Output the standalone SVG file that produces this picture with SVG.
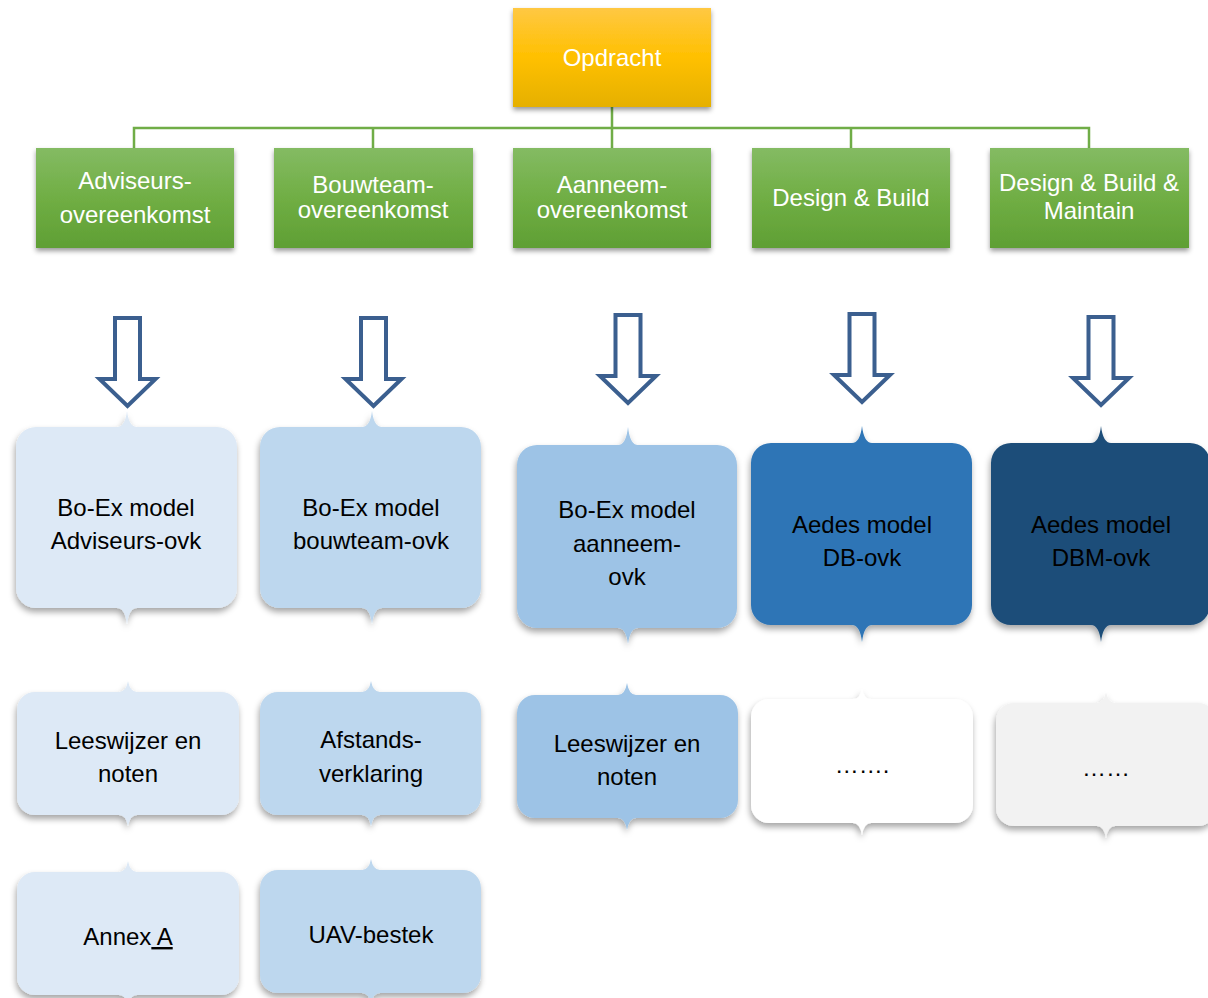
<svg xmlns="http://www.w3.org/2000/svg" width="1208" height="998" viewBox="0 0 1208 998">
<defs>
<linearGradient id="gYellow" x1="0" y1="0" x2="0" y2="1">
<stop offset="0" stop-color="#ffc843"/><stop offset="0.5" stop-color="#ffc000"/><stop offset="1" stop-color="#e5b000"/>
</linearGradient>
<linearGradient id="gGreen" x1="0" y1="0" x2="0" y2="1">
<stop offset="0" stop-color="#84bb63"/><stop offset="0.5" stop-color="#70ae44"/><stop offset="1" stop-color="#5f9f34"/>
</linearGradient>
<filter id="shTop" x="-10%" y="-10%" width="120%" height="130%">
<feDropShadow dx="0" dy="3" stdDeviation="2.5" flood-color="#000" flood-opacity="0.4"/>
</filter>
<filter id="shBox" x="-10%" y="-15%" width="120%" height="135%">
<feDropShadow dx="-1" dy="4" stdDeviation="3" flood-color="#000" flood-opacity="0.35"/>
</filter>
<path id="arrow" d="M-12.5,0 H12.5 V61 H28 L0,88 L-28,61 H-12.5 Z"/>
</defs>
<style>
.ttl{font-family:"Liberation Sans",Arial,sans-serif;font-size:24px;fill:#fff;text-anchor:middle}
.txt{font-family:"Liberation Sans",Arial,sans-serif;font-size:24px;fill:#000;text-anchor:middle}
.arr{fill:#fff;stroke:#3b5f8f;stroke-width:4;stroke-linejoin:miter}
.conn{fill:none;stroke:#70ad47;stroke-width:2.5}
.cb{filter:url(#shBox)}
</style>

<g id="connectors">
<path class="conn" d="M612,107 V128 M134,148 V128 H1089 V148 M373,128 V148 M612,128 V148 M851,128 V148"/>
</g>

<g id="opdracht">
<rect x="513" y="8" width="198" height="99" fill="url(#gYellow)" filter="url(#shTop)"/>
<text class="ttl" x="612" y="66">Opdracht</text>
</g>

<g id="adviseurs">
<rect x="36" y="148" width="198" height="100" fill="url(#gGreen)" filter="url(#shTop)"/>
<text class="ttl" x="135" y="189">Adviseurs-</text>
<text class="ttl" x="135" y="223">overeenkomst</text>
</g>
<g id="bouwteam">
<rect x="274" y="148" width="199" height="100" fill="url(#gGreen)" filter="url(#shTop)"/>
<text class="ttl" x="373" y="193">Bouwteam-</text>
<text class="ttl" x="373" y="218">overeenkomst</text>
</g>
<g id="aanneem">
<rect x="513" y="148" width="198" height="100" fill="url(#gGreen)" filter="url(#shTop)"/>
<text class="ttl" x="612" y="193">Aanneem-</text>
<text class="ttl" x="612" y="218">overeenkomst</text>
</g>
<g id="db">
<rect x="752" y="148" width="198" height="100" fill="url(#gGreen)" filter="url(#shTop)"/>
<text class="ttl" x="851" y="206">Design &amp; Build</text>
</g>
<g id="dbm">
<rect x="990" y="148" width="199" height="100" fill="url(#gGreen)" filter="url(#shTop)"/>
<text class="ttl" x="1089" y="191">Design &amp; Build &amp;</text>
<text class="ttl" x="1089" y="219">Maintain</text>
</g>

<g id="arrows">
<use href="#arrow" class="arr" transform="translate(127.5,318)"/>
<use href="#arrow" class="arr" transform="translate(373.5,318)"/>
<use href="#arrow" class="arr" transform="translate(628,315)"/>
<use href="#arrow" class="arr" transform="translate(862,314)"/>
<use href="#arrow" class="arr" transform="translate(1101,317)"/>
</g>

<g id="boex-adviseurs">
<path class="cb" fill="#dde9f6" d="M36,427 H117 Q125,427 127,411 Q129,427 137,427 H217 A20,20 0 0 1 237,447 V588 A20,20 0 0 1 217,608 H137 Q129,608 127,624 Q125,608 117,608 H36 A20,20 0 0 1 16,588 V447 A20,20 0 0 1 36,427 Z"/>
<text class="txt" x="126" y="516">Bo-Ex model</text>
<text class="txt" x="126" y="549">Adviseurs-ovk</text>
</g>
<g id="boex-bouwteam">
<path class="cb" fill="#bdd7ee" d="M280,427 H362 Q370,427 372,411 Q374,427 382,427 H461 A20,20 0 0 1 481,447 V588 A20,20 0 0 1 461,608 H382 Q374,608 372,624 Q370,608 362,608 H280 A20,20 0 0 1 260,588 V447 A20,20 0 0 1 280,427 Z"/>
<text class="txt" x="371" y="516">Bo-Ex model</text>
<text class="txt" x="371" y="549">bouwteam-ovk</text>
</g>
<g id="boex-aanneem">
<path class="cb" fill="#9dc3e6" d="M537,445 H618 Q626,445 628,427 Q630,445 638,445 H717 A20,20 0 0 1 737,465 V608 A20,20 0 0 1 717,628 H638 Q630,628 628,644 Q626,628 618,628 H537 A20,20 0 0 1 517,608 V465 A20,20 0 0 1 537,445 Z"/>
<text class="txt" x="627" y="518">Bo-Ex model</text>
<text class="txt" x="627" y="552">aanneem-</text>
<text class="txt" x="627" y="585">ovk</text>
</g>
<g id="aedes-db">
<path class="cb" fill="#2e75b6" d="M771,443 H852 Q860,443 862,426 Q864,443 872,443 H952 A20,20 0 0 1 972,463 V605 A20,20 0 0 1 952,625 H872 Q864,625 862,642 Q860,625 852,625 H771 A20,20 0 0 1 751,605 V463 A20,20 0 0 1 771,443 Z"/>
<text class="txt" x="862" y="533">Aedes model</text>
<text class="txt" x="862" y="566">DB-ovk</text>
</g>
<g id="aedes-dbm">
<path class="cb" fill="#1f4e79" d="M1011,443 H1091 Q1099,443 1101,426 Q1103,443 1111,443 H1190 A20,20 0 0 1 1210,463 V605 A20,20 0 0 1 1190,625 H1111 Q1103,625 1101,642 Q1099,625 1091,625 H1011 A20,20 0 0 1 991,605 V463 A20,20 0 0 1 1011,443 Z"/>
<text class="txt" x="1101" y="533">Aedes model</text>
<text class="txt" x="1101" y="566">DBM-ovk</text>
</g>

<g id="leeswijzer-adviseurs">
<path class="cb" fill="#dde9f6" d="M35,692 H119 Q126,692 128,681 Q130,692 137,692 H221 A18,18 0 0 1 239,710 V797 A18,18 0 0 1 221,815 H137 Q130,815 128,826 Q126,815 119,815 H35 A18,18 0 0 1 17,797 V710 A18,18 0 0 1 35,692 Z"/>
<text class="txt" x="128" y="749">Leeswijzer en</text>
<text class="txt" x="128" y="782">noten</text>
</g>
<g id="afstandsverklaring">
<path class="cb" fill="#bdd7ee" d="M278,692 H362 Q369,692 371,681 Q373,692 380,692 H463 A18,18 0 0 1 481,710 V797 A18,18 0 0 1 463,815 H380 Q373,815 371,826 Q369,815 362,815 H278 A18,18 0 0 1 260,797 V710 A18,18 0 0 1 278,692 Z"/>
<text class="txt" x="371" y="748">Afstands-</text>
<text class="txt" x="371" y="782">verklaring</text>
</g>
<g id="leeswijzer-aanneem">
<path class="cb" fill="#9dc3e6" d="M535,695 H618 Q625,695 627,683 Q629,695 636,695 H720 A18,18 0 0 1 738,713 V800 A18,18 0 0 1 720,818 H636 Q629,818 627,830 Q625,818 618,818 H535 A18,18 0 0 1 517,800 V713 A18,18 0 0 1 535,695 Z"/>
<text class="txt" x="627" y="752">Leeswijzer en</text>
<text class="txt" x="627" y="785">noten</text>
</g>
<g id="db-more">
<path class="cb" fill="#ffffff" d="M769,699 H853 Q860,699 862,689 Q864,699 871,699 H955 A18,18 0 0 1 973,717 V805 A18,18 0 0 1 955,823 H871 Q864,823 862,835 Q860,823 853,823 H769 A18,18 0 0 1 751,805 V717 A18,18 0 0 1 769,699 Z"/>
<text class="txt" x="862" y="773">…….</text>
</g>
<g id="dbm-more">
<path class="cb" fill="#f2f2f2" d="M1014,703 H1097 Q1104,703 1106,692 Q1108,703 1115,703 H1198 A18,18 0 0 1 1216,721 V808 A18,18 0 0 1 1198,826 H1115 Q1108,826 1106,838 Q1104,826 1097,826 H1014 A18,18 0 0 1 996,808 V721 A18,18 0 0 1 1014,703 Z"/>
<text class="txt" x="1106" y="776">……</text>
</g>

<g id="annex-a">
<path class="cb" fill="#dde9f6" d="M35,872 H119 Q126,872 128,861 Q130,872 137,872 H221 A18,18 0 0 1 239,890 V977 A18,18 0 0 1 221,995 H137 Q130,995 128,1006 Q126,995 119,995 H35 A18,18 0 0 1 17,977 V890 A18,18 0 0 1 35,872 Z"/>
<text class="txt" x="128" y="945">Annex<tspan text-decoration="underline"> A</tspan></text>
</g>
<g id="uav-bestek">
<path class="cb" fill="#bdd7ee" d="M278,870 H362 Q369,870 371,859 Q373,870 380,870 H463 A18,18 0 0 1 481,888 V975 A18,18 0 0 1 463,993 H380 Q373,993 371,1004 Q369,993 362,993 H278 A18,18 0 0 1 260,975 V888 A18,18 0 0 1 278,870 Z"/>
<text class="txt" x="371" y="943">UAV-bestek</text>
</g>
</svg>
